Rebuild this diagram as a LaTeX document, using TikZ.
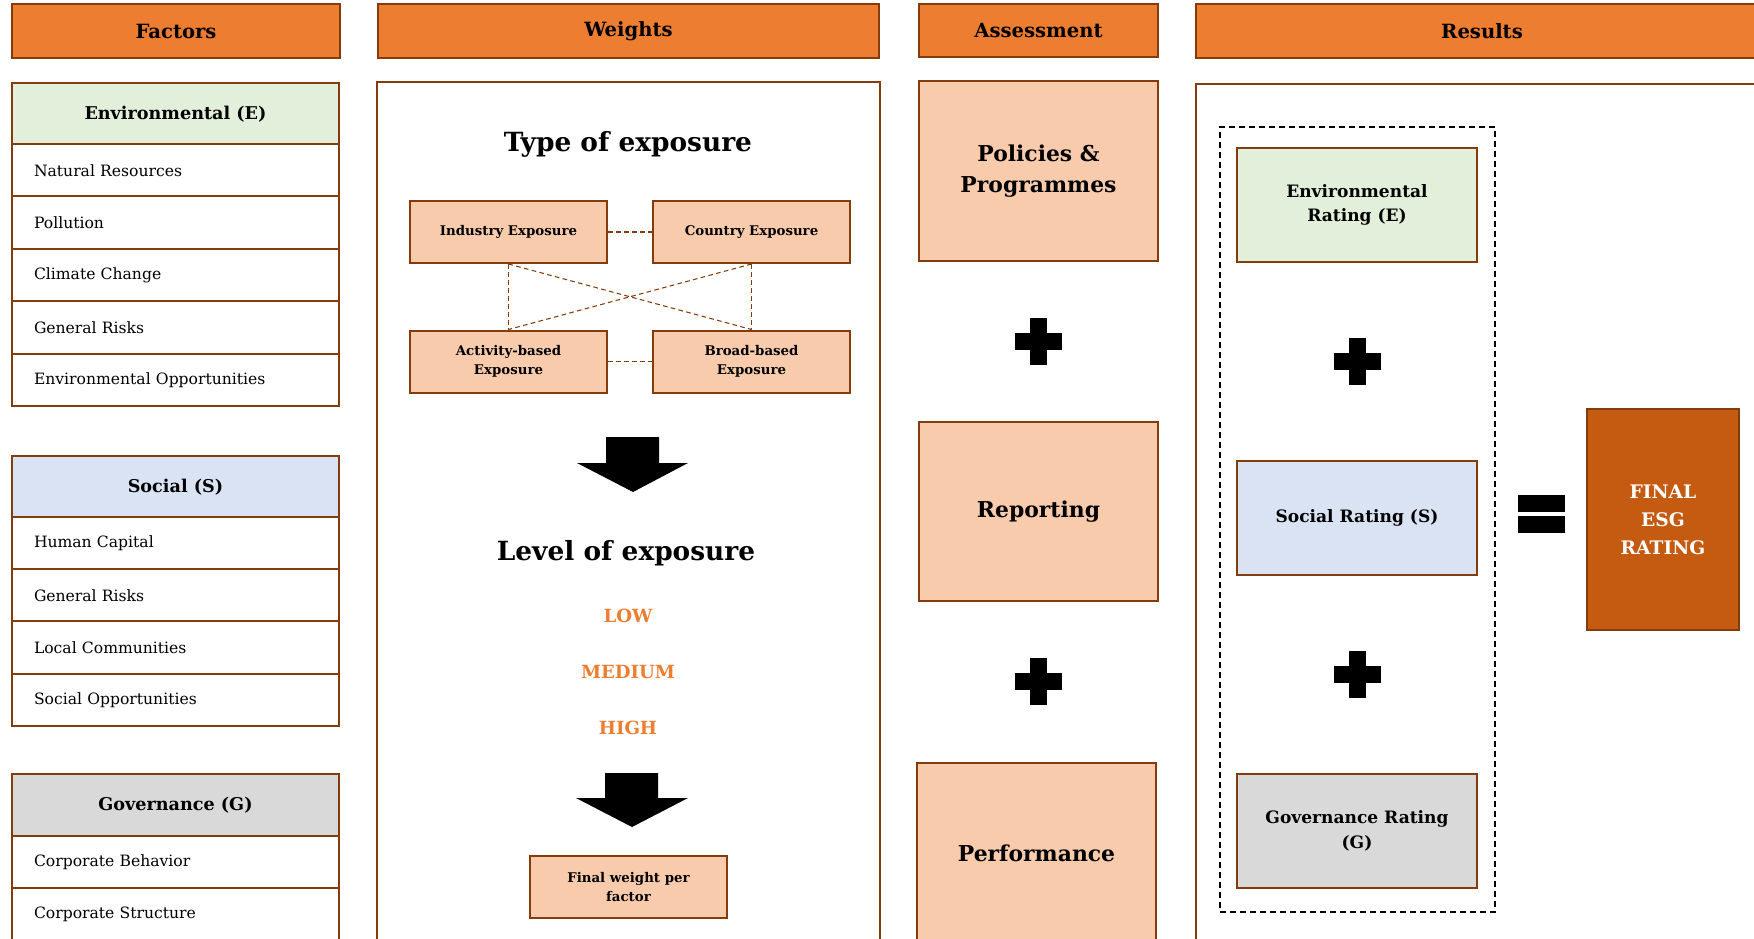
\documentclass[tikz,border=0pt]{standalone}
\usepackage{fontspec}
\setmainfont{DejaVu Serif}
\definecolor{ebrown}{HTML}{843C0C}
\definecolor{eorange}{HTML}{ED7D31}
\definecolor{epeach}{HTML}{F8CBAD}
\definecolor{egreen}{HTML}{E2EFDA}
\definecolor{eblue}{HTML}{DAE3F3}
\definecolor{egrey}{HTML}{D9D9D9}
\definecolor{edark}{HTML}{C55A11}
\newcommand{\plussign}[2]{%
  \fill ({#1-23.5},{#2-8.5}) rectangle ({#1+23.5},{#2+8.5});
  \fill ({#1-8.5},{#2-23.5}) rectangle ({#1+8.5},{#2+23.5});}
\begin{document}
\begin{tikzpicture}[x=0.75pt,y=-0.75pt,
  hdr/.style={draw=ebrown, line width=1.8pt, fill=eorange, inner sep=0pt,
    font=\bfseries\fontsize{14.7}{17}\selectfont},
  cat/.style={draw=ebrown, line width=1.5pt, inner sep=0pt, minimum width=327*0.75pt,
    font=\bfseries\fontsize{13.2}{15}\selectfont},
  item/.style={draw=ebrown, line width=1.5pt, fill=white, text width=283*0.75pt,
    inner xsep=22*0.75pt, inner ysep=0pt, align=left,
    font=\fontsize{11.7}{13}\selectfont},
  panel/.style={draw=ebrown, line width=1.5pt, inner sep=0pt},
  expo/.style={draw=ebrown, line width=1.5pt, fill=epeach, inner sep=0pt, align=center,
    minimum width=197*0.75pt, minimum height=62*0.75pt,
    font=\bfseries\fontsize{10}{14}\selectfont},
  link/.style={draw=ebrown, line width=0.8pt, dash pattern=on 3.5pt off 2.5pt},
  title/.style={font=\bfseries\fontsize{19.8}{22}\selectfont},
  level/.style={text=eorange, font=\bfseries\fontsize{13.6}{16}\selectfont},
  assess/.style={draw=ebrown, line width=1.5pt, fill=epeach, inner sep=0pt, align=center,
    minimum width=239*0.75pt, minimum height=180*0.75pt,
    font=\bfseries\fontsize{16.4}{23.5}\selectfont},
  rating/.style={draw=ebrown, line width=1.5pt, inner sep=0pt, align=center,
    minimum width=240*0.75pt, minimum height=114*0.75pt,
    font=\bfseries\fontsize{12.8}{18.5}\selectfont},
]
\useasboundingbox (0,0) rectangle (1754,939);
\clip (0,0) rectangle (1754,939);

% ---------------- Factors ----------------
\node[hdr, minimum width=328*0.75pt, minimum height=54*0.75pt] (hf) at (176,31) {Factors};

\node[cat, fill=egreen, minimum height=62*0.75pt] (env) at (175.5,114) {Environmental (E)};
\node[item, minimum height=52.4*0.75pt] (e1) at (175.5,170.2) {Natural Resources};
\node[item, minimum height=52.4*0.75pt] (e2) at (175.5,222.6) {Pollution};
\node[item, minimum height=52.4*0.75pt] (e3) at (175.5,275.0) {Climate Change};
\node[item, minimum height=52.4*0.75pt] (e4) at (175.5,327.4) {General Risks};
\node[item, minimum height=52.4*0.75pt] (e5) at (175.5,379.8) {Environmental Opportunities};

\node[cat, fill=eblue, minimum height=62*0.75pt] (soc) at (175.5,487) {Social (S)};
\node[item, minimum height=52.25*0.75pt] (s1) at (175.5,543.1) {Human Capital};
\node[item, minimum height=52.25*0.75pt] (s2) at (175.5,595.4) {General Risks};
\node[item, minimum height=52.25*0.75pt] (s3) at (175.5,647.6) {Local Communities};
\node[item, minimum height=52.25*0.75pt] (s4) at (175.5,699.9) {Social Opportunities};

\node[cat, fill=egrey, minimum height=63*0.75pt] (gov) at (175.5,805.5) {Governance (G)};
\node[item, minimum height=52*0.75pt] (g1) at (175.5,862) {Corporate Behavior};
\node[item, minimum height=52*0.75pt] (g2) at (175.5,914) {Corporate Structure};

% ---------------- Weights ----------------
\node[hdr, minimum width=501*0.75pt, minimum height=54*0.75pt] (hw) at (628.5,31) {Weights};
\node[panel, minimum width=503*0.75pt, minimum height=880*0.75pt] (wpanel) at (628.5,522) {};

\node[title] (typ) at (628,144) {Type of exposure};
\node[expo] (ind) at (508.5,232) {Industry Exposure};
\node[expo] (cty) at (751.5,232) {Country Exposure};
\node[expo] (act) at (508.5,361.5) {Activity-based\\Exposure};
\node[expo] (brd) at (751.5,361.5) {Broad-based\\Exposure};
\draw[link] (ind.east) -- (cty.west);
\draw[link] (act.east) -- (brd.west);
\draw[link] (ind.south) -- (act.north);
\draw[link] (cty.south) -- (brd.north);
\draw[link] (ind.south) -- (brd.north);
\draw[link] (cty.south) -- (act.north);

\fill (606,437) -- (659,437) -- (659,463) -- (688,463) -- (633,492) -- (577,463) -- (606,463) -- cycle;

\node[title] (lvl) at (626,553) {Level of exposure};
\node[level] (low) at (628,616) {LOW};
\node[level] (med) at (628,672) {MEDIUM};
\node[level] (high) at (628,728) {HIGH};

\fill (605,773) -- (658,773) -- (658,798) -- (688,798) -- (632,827) -- (576,798) -- (605,798) -- cycle;

\node[expo] (fw) at (628.5,887) {Final weight per\\factor};

% ---------------- Assessment ----------------
\node[hdr, minimum width=239*0.75pt, minimum height=53*0.75pt] (ha) at (1038.5,30.5) {Assessment};
\node[assess] (pol) at (1038.5,171) {Policies \&\\Programmes};
\plussign{1038.5}{341}
\node[assess, minimum height=179*0.75pt] (rep) at (1038.5,511.5) {Reporting};
\plussign{1038.5}{681}
\node[assess] (perf) at (1036.5,853) {Performance};

% ---------------- Results ----------------
\node[hdr, minimum width=572*0.75pt, minimum height=54*0.75pt] (hr) at (1482,31) {Results};
\node[panel, minimum width=576*0.75pt, minimum height=880*0.75pt] (rpanel) at (1484,524) {};
\node[draw=black, line width=1.1pt, dash pattern=on 4.5pt off 3pt, inner sep=0pt,
  minimum width=275*0.75pt, minimum height=785*0.75pt] (dbox) at (1357.5,519.5) {};
\node[rating, fill=egreen] (er) at (1357,205) {Environmental\\Rating (E)};
\plussign{1357}{361}
\node[rating, fill=eblue] (sr) at (1357,518) {Social Rating (S)};
\plussign{1357}{674}
\node[rating, fill=egrey] (gr) at (1357,831) {Governance Rating\\(G)};

\fill (1518,495) rectangle (1565,512);
\fill (1518,516) rectangle (1565,533);

\node[draw=ebrown, line width=1.5pt, fill=edark, text=white, inner sep=0pt, align=center,
  minimum width=152*0.75pt, minimum height=221*0.75pt,
  font=\bfseries\fontsize{14}{21}\selectfont] (fin) at (1663,519.5) {FINAL\\ESG\\RATING};
\end{tikzpicture}
\end{document}
